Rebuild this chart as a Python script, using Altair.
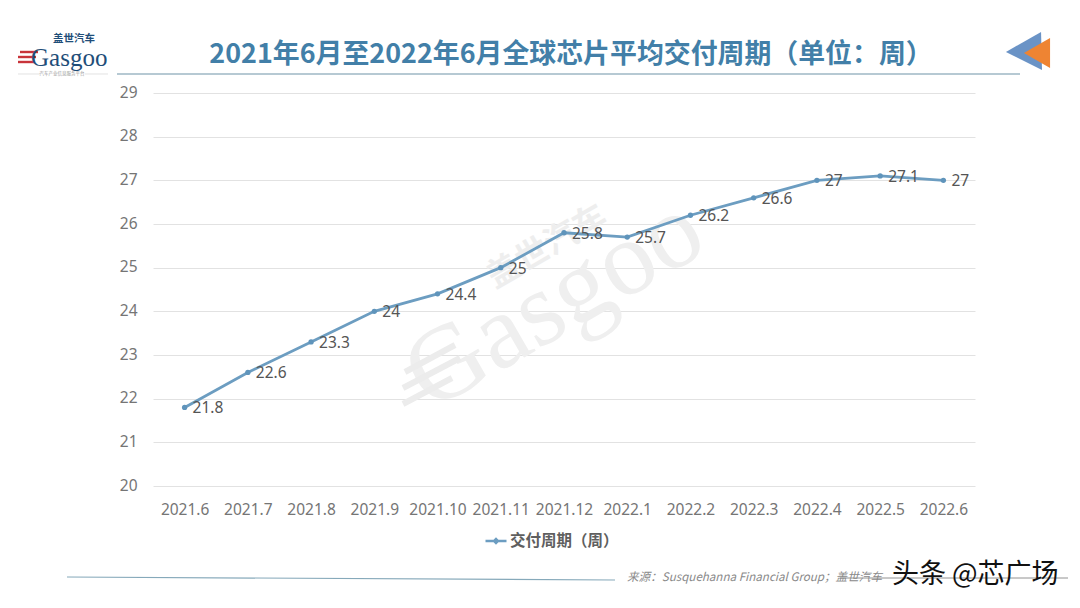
import altair as alt
import pandas as pd

months = ["2021.6","2021.7","2021.8","2021.9","2021.10","2021.11","2021.12","2022.1","2022.2","2022.3","2022.4","2022.5","2022.6"]
weeks = [21.8,22.6,23.3,24,24.4,25,25.8,25.7,26.2,26.6,27,27.1,27]
series_name = "交付周期（周）"
title_text = "2021年6月至2022年6月全球芯片平均交付周期（单位：周）"
source_text = "来源：Susquehanna Financial Group；盖世汽车"
stamp_text = "头条 @芯广场"
FONT = "Noto Sans CJK SC"
LINE = "#6c9dc1"

df = pd.DataFrame({"m": months, "w": weeks, "s": series_name})
one = alt.Data(values=[{"a": 1}])

x = alt.X("m:N", sort=months, title=None, scale=alt.Scale(type="point", padding=0.5),
          axis=alt.Axis(labelAngle=0, labelColor="#757575", labelFontSize=15.5, labelFont="Noto Sans", labelPadding=16,
                        domain=False, ticks=False, grid=False))
y = alt.Y("w:Q", title=None, scale=alt.Scale(domain=[20, 29], nice=False, zero=False),
          axis=alt.Axis(values=list(range(20, 30)), labelColor="#757575", labelFontSize=15.5, labelFont="Noto Sans",
                        labelPadding=16, labelOffset=-1, domain=False, ticks=False, grid=True, gridColor="#e2e2e2", gridWidth=1))
base = alt.Chart(df)

def txt(t, px, py, size, color, align="left", weight="normal", style="normal", angle=0, font=FONT):
    return alt.Chart(one).mark_text(text=t, fontSize=size, color=color, align=align, baseline="middle",
                                    fontWeight=weight, fontStyle=style, angle=angle, font=font
                                    ).encode(x=alt.value(px), y=alt.value(py))

def rule(x1, x2, py, color, w=1.0, y2=None):
    return alt.Chart(one).mark_rule(color=color, strokeWidth=w).encode(
        x=alt.value(x1), x2=alt.value(x2), y=alt.value(py), y2=alt.value(py if y2 is None else y2))

def shape(path, px, py, size, color):
    return alt.Chart(one).mark_point(shape=path, size=size, filled=True, color=color, opacity=1, strokeWidth=0
                                     ).encode(x=alt.value(px), y=alt.value(py))

OX, OY = 153, 93
line = base.mark_line(strokeWidth=2.8, color=LINE).encode(
    x=x, y=y,
    color=alt.Color("s:N", scale=alt.Scale(range=[LINE]), title=None,
                    legend=alt.Legend(orient="none", legendX=331, legendY=436,
                                      symbolType="M-1,0L-0.2,0L0,-0.2L0.2,0L1,0L0.2,0L0,0.2L-0.2,0Z",
                                      symbolSize=441, symbolStrokeWidth=2.4, symbolFillColor=LINE,
                                      labelFont=FONT, labelFontSize=15.5, labelFontWeight="bold",
                                      labelColor="#5f5f5f", labelOffset=2)))
pts = base.mark_point(filled=True, size=28, color="#5f94bb", opacity=1).encode(x=x, y=y)
labels = base.mark_text(align="left", baseline="middle", dx=8, dy=1, fontSize=15.5, color="#555555", font="Noto Sans").encode(
    x=x, y=y, text=alt.Text("w:Q"))

layers = [
    # watermark
    txt("Gasgoo", 414 - OX, 384 - OY, 106, "#efefef", angle=330, font="Liberation Serif"),
    txt("盖世汽车", 490 - OX, 280 - OY, 33, "#eeeeee", angle=330, weight="bold"),
    rule(405 - OX, 455 - OX, 372 - OY, "#ececec", 6, 345 - OY),
    rule(403 - OX, 460 - OX, 388 - OY, "#ececec", 6, 358 - OY),
    rule(403 - OX, 452 - OX, 404 - OY, "#ececec", 6, 378 - OY),
    line, pts, labels,
    # header
    txt(title_text, 571 - OX, 55 - OY, 26.9, "#427fa8", align="center", weight="bold"),
    rule(117 - OX, 1020 - OX, 74 - OY, "#6f93a8", 1.2),
    # logo
    rule(20 - OX, 38 - OX, 52 - OY, "#c8343a", 2.4),
    rule(18 - OX, 36 - OX, 57 - OY, "#c8343a", 2.4),
    rule(18 - OX, 34 - OX, 62 - OY, "#c8343a", 2.4),
    txt("Gasgoo", 31 - OX, 58 - OY, 25, "#1f4e79", font="Liberation Serif"),
    txt("盖世汽车", 53 - OX, 39 - OY, 10.5, "#1f4e79", weight="bold"),
    rule(18 - OX, 40 - OX, 74 - OY, "#d5d5d5", 0.7),
    rule(85 - OX, 108 - OX, 74 - OY, "#d5d5d5", 0.7),
    txt("汽车产业信息服务平台", 62 - OX, 74 - OY, 4.5, "#999999", align="center"),
    # arrows
    shape("M 0.95 -1 L 1 1 L -0.9 0.05 Z", 1023 - OX, 51 - OY, 1444, "#6a93c6"),
    shape("M 0.87 -1 L 0.87 1 L -0.87 0 Z", 1037 - OX, 53 - OY, 900, "#ee8433"),
    # footer
    rule(67 - OX, 615 - OX, 577 - OY, "#86a9ba", 1.2, 580 - OY),
    rule(840 - OX, 1068 - OX, 578 - OY, "#777777", 0.8),
    txt(source_text, 627 - OX, 578 - OY, 11.6, "#8a8a8a", style="italic"),
    txt(stamp_text, 892 - OX, 575 - OY, 27, "#111111"),
]

chart = alt.layer(*layers).resolve_scale(color="independent").properties(
    width=822, height=393,
    autosize=alt.AutoSizeParams(type="none"),
    padding={"left": 145, "top": 85, "right": 97, "bottom": 106},
    background="#ffffff",
).configure_view(stroke=None)

chart.save("out.html", embed_options={"renderer": "svg", "actions": False})
